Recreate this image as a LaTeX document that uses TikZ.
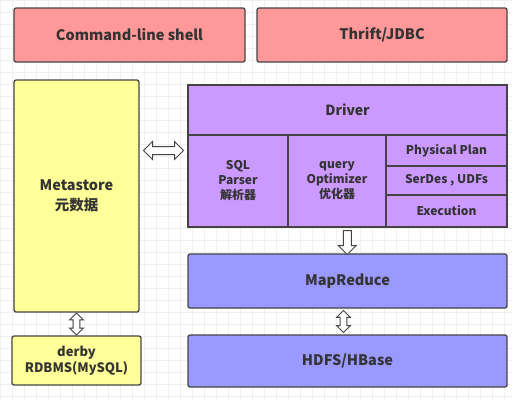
\documentclass[tikz,border=0pt]{standalone}
\usepackage{fontspec}
\setmainfont{Noto Sans CJK SC}
\usetikzlibrary{shapes.arrows, positioning, calc}
\definecolor{clired}{HTML}{FF9999}
\definecolor{metayellow}{HTML}{FFFF99}
\definecolor{drvpurple}{HTML}{CC99FF}
\definecolor{mrblue}{HTML}{9999FF}
\definecolor{edgegray}{HTML}{444444}
\definecolor{txtgray}{HTML}{333333}
\definecolor{gridgray}{HTML}{F0F0F0}
\begin{document}
\begin{tikzpicture}[x=1pt, y=-1pt,
    every node/.style={font=\bfseries\fontsize{14.5}{20}\selectfont, text=txtgray},
    blk/.style={rectangle, rounded corners=2pt, draw=edgegray, line width=1.3pt,
                align=center, inner sep=0pt},
    cell/.style={rectangle, draw=edgegray, line width=1.3pt, fill=drvpurple,
                 align=center, inner sep=0pt, font=\bfseries\fontsize{12}{15}\selectfont},
    harr/.style={double arrow, draw=edgegray, fill=white, line width=1pt,
                 inner sep=3.5pt, double arrow head extend=5pt},
    varr/.style={harr, rotate=90, inner sep=2.8pt, double arrow head extend=3.5pt}
]
    \useasboundingbox (0,0) rectangle (522,408);
    \draw[gridgray, line width=0.6pt, step=12pt] (0,0) grid (512,400);

    \node[blk, fill=clired, minimum width=231, minimum height=54] (cli) at (129.5,35) {Command-line shell};
    \node[blk, fill=clired, minimum width=250, minimum height=54] (jdbc) at (382,35) {Thrift/JDBC};

    \node[blk, fill=metayellow, minimum width=125, minimum height=232] (meta) at (76.5,196) {Metastore\\元数据};
    \node[blk, fill=metayellow, minimum width=129, minimum height=49,
          font=\bfseries\fontsize{13}{16}\selectfont] (rdb) at (76.5,360.5) {derby\\RDBMS(MySQL)};

    % driver block
    \node[cell, minimum width=319, minimum height=50, font=\bfseries\fontsize{14}{17}\selectfont] (drv) at (347.5,110) {Driver};
    \node[cell, minimum width=100, minimum height=92] (sql) at (238,181) {SQL\\Parser\\解析器};
    \node[cell, minimum width=98, minimum height=92] (opt) at (337,181) {query\\Optimizer\\优化器};
    \node[cell, minimum width=121, minimum height=31] (plan) at (446.5,150.5) {Physical Plan};
    \node[cell, minimum width=121, minimum height=29] (serde) at (446.5,180.5) {SerDes , UDFs};
    \node[cell, minimum width=121, minimum height=32] (exec) at (446.5,211) {Execution};

    \node[blk, fill=mrblue, minimum width=319, minimum height=54] (mr) at (347.5,281) {MapReduce};
    \node[blk, fill=mrblue, minimum width=319, minimum height=52] (hdfs) at (347.5,361) {HDFS/HBase};

    % connectors
    \node[harr, minimum height=40] (a1) at ($(meta.east)!0.5!(sql.west)+(0,-38)$) {};
    \node[single arrow, draw=edgegray, fill=white, line width=1pt, rotate=-90,
          inner sep=3.5pt, single arrow head extend=5pt, minimum height=24] (a2)
          at ($(opt.south)!0.5!(mr.north)+(5,0)$) {};
    \node[varr, minimum height=22] (a3) at ($(mr.south)!0.5!(hdfs.north)+(-4,0)$) {};
    \node[varr, minimum height=22] (a4) at ($(meta.south)!0.5!(rdb.north)$) {};
\end{tikzpicture}
\end{document}
